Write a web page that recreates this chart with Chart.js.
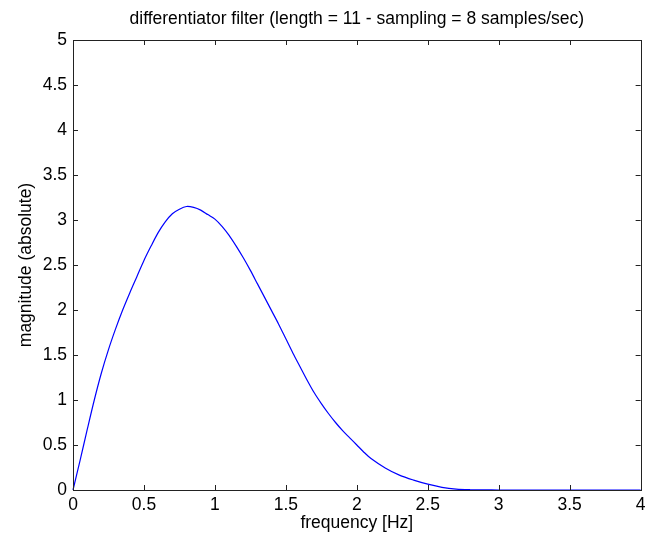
<!DOCTYPE html>
<html>
<head>
<meta charset="utf-8">
<script src="https://cdn.jsdelivr.net/npm/chart.js@4"></script>
<style>
html,body{margin:0;padding:0;background:#fff;}
#wrap{width:650px;height:538px;position:relative;}
</style>
</head>
<body>
<div id="wrap"><canvas id="c" width="650" height="538"></canvas></div>
<script>
// ---- data ----
const frequency = [0, 0.05, 0.1, 0.15, 0.2, 0.25, 0.3, 0.35, 0.4, 0.45, 0.5, 0.55, 0.6, 0.65, 0.7, 0.75, 0.8, 0.85, 0.9, 0.95,
  1.0, 1.05, 1.1, 1.15, 1.2, 1.25, 1.3, 1.35, 1.4, 1.45, 1.5, 1.55, 1.6, 1.65, 1.7, 1.75, 1.8, 1.85, 1.9, 1.95,
  2.0, 2.05, 2.1, 2.2, 2.3, 2.4, 2.5, 2.6, 2.7, 2.8, 2.9, 3.0, 3.25, 3.5, 3.75, 4.0];
const magnitude = [0, 0.33, 0.67, 1.0, 1.3, 1.56, 1.79, 2.0, 2.19, 2.37, 2.55, 2.71, 2.86, 2.98, 3.07, 3.12, 3.15, 3.14, 3.11, 3.06,
  3.01, 2.93, 2.83, 2.71, 2.58, 2.44, 2.29, 2.14, 1.99, 1.84, 1.68, 1.52, 1.37, 1.22, 1.08, 0.96, 0.85, 0.75, 0.66, 0.58,
  0.50, 0.42, 0.35, 0.245, 0.165, 0.11, 0.065, 0.03, 0.01, 0.003, 0.001, 0, 0, 0, 0, 0];
const xTickValues = [0, 0.5, 1, 1.5, 2, 2.5, 3, 3.5, 4];
const xTickLabels = ['0', '0.5', '1', '1.5', '2', '2.5', '3', '3.5', '4'];
const yTickValues = [0, 0.5, 1, 1.5, 2, 2.5, 3, 3.5, 4, 4.5, 5];
const yTickLabels = ['0', '0.5', '1', '1.5', '2', '2.5', '3', '3.5', '4', '4.5', '5'];
const titleText = 'differentiator filter (length = 11 - sampling = 8 samples/sec)';
const xTitle = 'frequency [Hz]';
const yTitle = 'magnitude (absolute)';

const points = frequency.map((f, i) => ({x: f, y: magnitude[i]}));
const FONT = '"Liberation Sans", Arial, sans-serif';
const FS = 17.5;

// axes box, inward ticks on all four sides, and the title centred over the plot area
const boxTicks = {
  id: 'boxTicks',
  afterDraw(chart) {
    const {ctx, chartArea: a, scales} = chart;
    ctx.save();
    ctx.strokeStyle = '#222';
    ctx.lineWidth = 1;
    ctx.strokeRect(Math.round(a.left) + 0.5, Math.round(a.top) + 0.5,
      Math.round(a.right) - Math.round(a.left), Math.round(a.bottom) - Math.round(a.top));
    const L = 5;
    ctx.beginPath();
    xTickValues.forEach(v => {
      const px = Math.round(scales.x.getPixelForValue(v)) + 0.5;
      ctx.moveTo(px, a.bottom); ctx.lineTo(px, a.bottom - L);
      ctx.moveTo(px, a.top); ctx.lineTo(px, a.top + L);
    });
    yTickValues.forEach(v => {
      const py = Math.round(scales.y.getPixelForValue(v)) + 0.5;
      ctx.moveTo(a.left, py); ctx.lineTo(a.left + L, py);
      ctx.moveTo(a.right, py); ctx.lineTo(a.right - L, py);
    });
    ctx.stroke();
    ctx.fillStyle = '#000';
    ctx.font = FS + 'px ' + FONT;
    ctx.textAlign = 'center';
    ctx.textBaseline = 'middle';
    ctx.fillText(titleText, (a.left + a.right) / 2, a.top - 21);
    ctx.restore();
  }
};

new Chart(document.getElementById('c'), {
  type: 'line',
  data: {
    datasets: [{
      data: points,
      borderColor: '#0000ff',
      borderWidth: 1.2,
      pointRadius: 0,
      tension: 0.3,
      fill: false,
      clip: 2
    }]
  },
  options: {
    responsive: false,
    animation: false,
    devicePixelRatio: 1,
    layout: {padding: {left: 0, right: 5, top: 40, bottom: 0}},
    plugins: {
      legend: {display: false},
      tooltip: {enabled: false},
      title: {display: false}
    },
    scales: {
      x: {
        type: 'linear',
        min: 0, max: 4,
        afterBuildTicks(scale) { scale.ticks = xTickValues.map(v => ({value: v})); },
        afterFit(scale) { scale.height = 48; },
        grid: {display: false, drawTicks: false},
        border: {display: false},
        ticks: {
          color: '#000', padding: 4.5, maxRotation: 0, autoSkip: false,
          font: {family: FONT, size: FS},
          callback: (v) => { const i = xTickValues.indexOf(v); return i >= 0 ? xTickLabels[i] : ''; }
        },
        title: {display: true, text: xTitle, color: '#000', font: {family: FONT, size: FS}, padding: {top: 0, bottom: 4.5}}
      },
      y: {
        type: 'linear',
        min: 0, max: 5,
        afterBuildTicks(scale) { scale.ticks = yTickValues.map(v => ({value: v})); },
        afterFit(scale) { scale.width = 73; },
        grid: {display: false, drawTicks: false},
        border: {display: false},
        ticks: {
          color: '#000', padding: 6, autoSkip: false,
          font: {family: FONT, size: FS},
          callback: (v) => { const i = yTickValues.indexOf(v); return i >= 0 ? yTickLabels[i] : ''; }
        },
        title: {display: true, text: yTitle, color: '#000', font: {family: FONT, size: FS}, padding: {top: 15.5, bottom: 0}}
      }
    }
  },
  plugins: [boxTicks]
});
</script>
</body>
</html>
